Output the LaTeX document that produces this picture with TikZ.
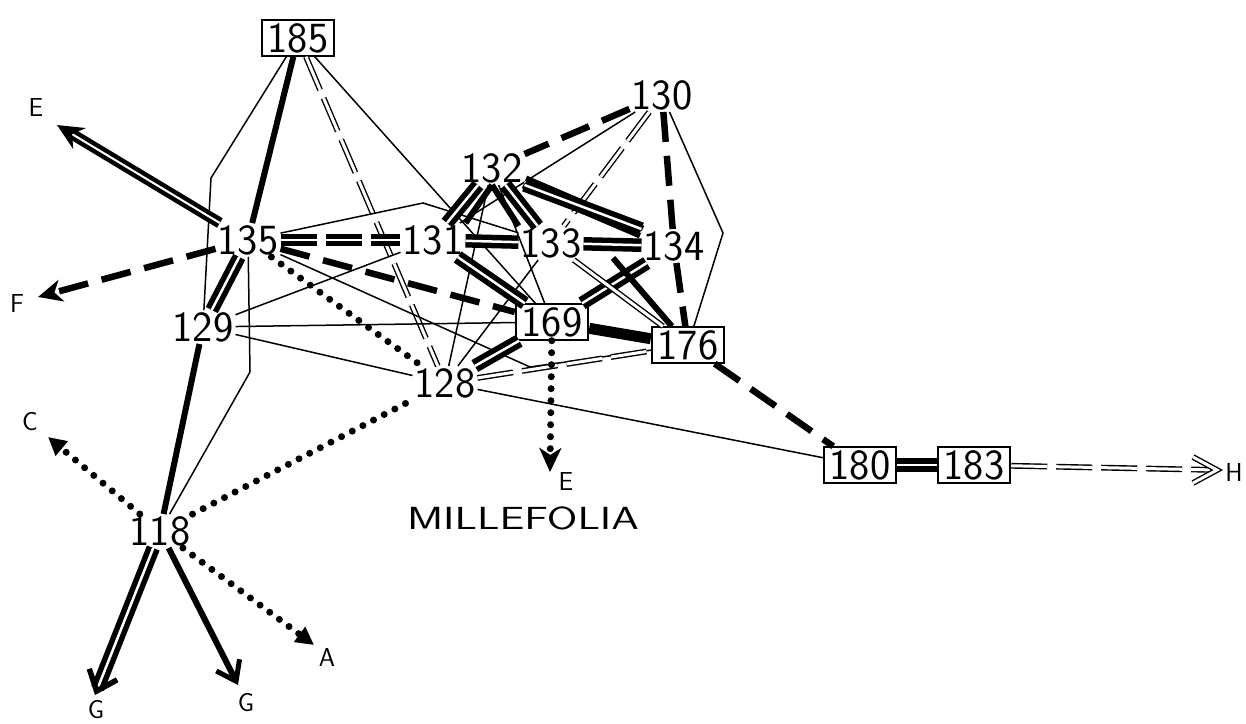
\documentclass[tikz,border=0pt]{standalone}
\usetikzlibrary{arrows.meta}
\tikzset{
  sp/.style={font=\fontsize{43}{43}\sffamily\selectfont,inner sep=2pt},
  boxed/.style={sp,draw,line width=1.8pt,inner xsep=6pt,inner ysep=3pt},
  tag/.style={font=\fontsize{26}{26}\sffamily\selectfont,inner sep=1pt},
  weak/.style={line width=1.5pt},
  strong/.style={line width=6pt},
  dbl/.style={double,double distance=3pt,line width=1.4pt},
  dbldash/.style={dbl,dash pattern=on 36pt off 9pt},
  strongdbl/.style={double,double distance=2.5pt,line width=5.5pt},
  strongdash/.style={line width=6.5pt,dash pattern=on 30pt off 14pt},
  strongdbldash/.style={double,double distance=2.5pt,line width=5pt,dash pattern=on 36pt off 9pt},
  dots/.style={line width=7pt,line cap=round,dash pattern=on 0pt off 12pt},
  barbtip/.style={-{Straight Barb[length=18pt,width=26pt,line width=5pt]}},
  solidtip/.style={-{Stealth[length=24pt,width=22pt,inset=7pt]}},
  dottip/.style={-{Triangle[length=18pt,width=18pt]}},
}
\begin{document}
\begin{tikzpicture}[x=1pt,y=-1pt]
\useasboundingbox (0,0) rectangle (1246,723);

% species
\node[boxed] (n185) at (298,38) {185};
\node[sp] (n130) at (662,95) {130};
\node[sp] (n132) at (492,168) {132};
\node[sp] (n135) at (248,240) {135};
\node[sp] (n131) at (433,240) {131};
\node[sp] (n133) at (551,243) {133};
\node[sp] (n134) at (674,246) {134};
\node[sp] (n129) at (203,327) {129};
\node[boxed] (n169) at (552,322) {169};
\node[boxed] (n176) at (688,345) {176};
\node[sp] (n128) at (445,383) {128};
\node[boxed] (n180) at (860,465) {180};
\node[boxed] (n183) at (974,465) {183};
\node[sp] (n118) at (160,531) {118};
\node[sp] (mil) at (523,518) {\scalebox{1.38}[1]{\fontsize{32}{32}\selectfont MILLEFOLIA}};

% outlets
\coordinate (tE) at (57,125);  \node[tag] (lE) at (36,108) {E};
\coordinate (tF) at (38,297);  \node[tag] (lF) at (17,303) {F};
\coordinate (tC) at (48,437);  \node[tag] (lC) at (30,422) {C};
\coordinate (tA) at (314,645); \node[tag] (lA) at (327,657) {A};
\coordinate (tG) at (95,695);  \node[tag] (lG) at (96,710) {G};
\coordinate (tGG) at (238,685);\node[tag] (lGG) at (246,703) {G};
\coordinate (tEE) at (550,472);\node[tag] (lEE) at (566,481) {E};
\coordinate (tH) at (1217,470);\node[tag] (lH) at (1234,472) {H};

% bends
\coordinate (k1) at (211,178);
\coordinate (k2) at (250,372);
\coordinate (k3) at (423,203);
\coordinate (k4) at (530,367);
\coordinate (k5) at (613,258);
\coordinate (k6) at (723,233);

% 185
\draw[strong] (n185) -- (n135);
\draw[dbldash] (n185) -- (n128);
\draw[weak] (n185) -- (n169);
\draw[weak] (n185) -- (k1) -- (n129);

% 135
\draw[double,double distance=2pt,line width=4.5pt,-{Stealth[length=26pt,width=24pt]}] (n135) -- (tE);
\draw[strongdash,solidtip] (n135) -- (tF);
\draw[strongdbl] (n135) -- (n129);
\draw[strongdbldash] (n135) -- (n131);
\draw[strongdash] (n135) -- (n169);
\draw[dots] (n135) -- (n128);
\draw[weak] (n135) -- (k2) -- (n118);
\draw[weak] (n135) -- (k3) -- (n133);
\draw[weak] (n135) -- (k4) -- (n176);

% 129
\draw[strong] (n129) -- (n118);
\draw[weak] (n129) -- (n169);
\draw[weak] (n129) -- (n131);
\draw[weak] (n129) -- (n128);

% 118
\draw[dots,dottip] (n118) -- (tC);
\draw[dots] (n118) -- (n128);
\draw[dots,dottip] (n118) -- (tA);
\draw[strongdbl,-{Straight Barb[length=18pt,width=30pt]}] (n118) -- (tG);
\draw[strong,barbtip] (n118) -- (tGG);

% 128
\draw[strongdbl] (n128) -- (n169);
\draw[dbldash] (n128) -- (n176);
\draw[weak] (n128) -- (n180);
\draw[weak] (n128) -- (n132);
\draw[weak] (n128) -- (n133);

% 169 and 176
\draw[dots,solidtip] (n169) -- (tEE);
\draw[line width=11pt] (n169) -- (n176);
\draw[strongdbl] (n169) -- (n134);
\draw[strongdbl] (n169) -- (n131);
\draw[weak] (n169) -- (n132);
\draw[strongdash] (n176) -- (n180);
\draw[strongdash] (n134) -- (n176);
\draw[dbl] (n133) -- (n176);
\draw[strong] (k5) -- (n176);

% 130
\draw[strongdash] (n130) -- (n132);
\draw[strongdash] (n130) -- (n134);
\draw[weak] (n130) -- (n131);
\draw[dbldash] (n130) -- (n133);
\draw[weak] (n130) -- (k6) -- (n176);

% 132 cluster
\draw[strongdbl] (n132) -- (n131);
\draw[strong] (n132.south) -- (n131.north east);
\draw[strongdbl] (n132) -- (n133);
\draw[strong] (n132.south) -- (n133.north west);
\draw[strongdbl] (n132) -- (n134);
\draw[strongdbl] (n132.south east) -- (n134.north west);
\draw[strongdbl] (n131) -- (n133);
\draw[strongdbl] (n133) -- (n134);

% 180 and 183
\draw[strongdbl] (n180) -- (n183);
\draw[dbldash,shorten >=5pt] (n183) -- (tH);
\draw[dbl,line join=miter] ([shift={(-24,-13)}]tH) -- (tH) -- ([shift={(-24,13)}]tH);
\end{tikzpicture}
\end{document}
